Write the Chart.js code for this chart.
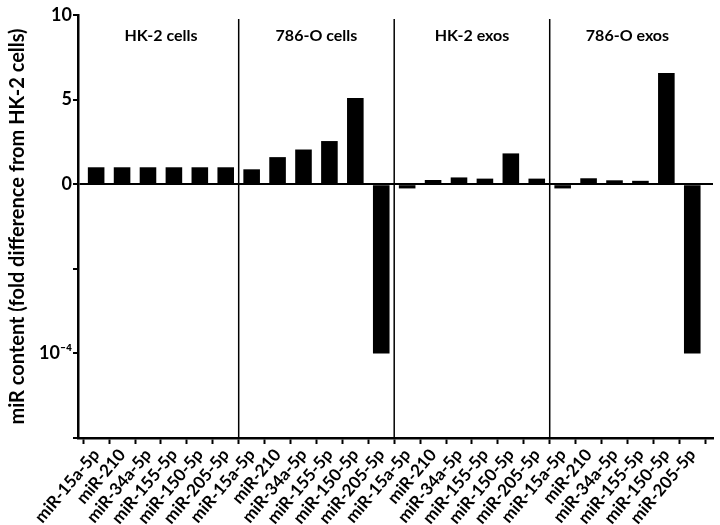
<!DOCTYPE html>
<html>
<head>
<meta charset="utf-8">
<script src="https://cdn.jsdelivr.net/npm/chart.js@4"></script>
<style>
  body { margin: 0; background: #fff; }
</style>
</head>
<body>
<canvas id="myChart" width="720" height="525"></canvas>
<script>
// chart values
var mirs = ['miR-15a-5p', 'miR-210', 'miR-34a-5p', 'miR-155-5p', 'miR-150-5p', 'miR-205-5p'];
var groups = ['HK-2 cells', '786-O cells', 'HK-2 exos', '786-O exos'];
var hk2Cells = [1, 1, 1, 1, 1, 1];
var cells786 = [0.88, 1.6, 2.05, 2.55, 5.1, -10];
var hk2Exos = [-0.25, 0.25, 0.4, 0.33, 1.82, 0.33];
var exos786 = [-0.25, 0.35, 0.23, 0.2, 6.57, -10];
// y ticks on the broken axis: -10 stands for 10^-4
var yTicks = [10, 5, 0, -5, -10, -15];
var yTickLabels = ['10', '5', '0', '', '10\u207B\u2074', ''];

var allValues = hk2Cells.concat(cells786, hk2Exos, exos786);
var allLabels = [];
groups.forEach(function(){ allLabels = allLabels.concat(mirs); });
var points = allValues.map(function(v, i){ return {x: i, y: v}; });

// separators and group titles
var groupPlugin = {
    id: 'groupPlugin',
    afterDatasetsDraw: function(chart){
        var ctx = chart.ctx;
        var xs = chart.scales.x;
        var area = chart.chartArea;
        ctx.save();
        ctx.strokeStyle = '#000';
        ctx.lineWidth = 1.5;
        for (var g = 1; g < groups.length; g++) {
            var px = xs.getPixelForValue(g * mirs.length - 0.5);
            ctx.beginPath();
            ctx.moveTo(px, area.top + 4);
            ctx.lineTo(px, area.bottom);
            ctx.stroke();
        }
        ctx.fillStyle = '#000';
        ctx.font = 'bold 16px Lato';
        ctx.textAlign = 'center';
        ctx.textBaseline = 'middle';
        groups.forEach(function(name, g){
            var cx = xs.getPixelForValue(g * mirs.length + (mirs.length - 1) / 2);
            ctx.fillText(name, cx, 36);
        });
        ctx.restore();
    }
};

new Chart(document.getElementById('myChart'), {
    type: 'bar',
    data: {
        datasets: [{
            data: points,
            backgroundColor: '#000',
            borderWidth: 0,
            barPercentage: 0.8,
            categoryPercentage: 0.8
        }]
    },
    options: {
        responsive: false,
        animation: false,
        layout: { padding: { top: 15, right: 7 } },
        plugins: { legend: { display: false }, tooltip: { enabled: false } },
        scales: {
            x: {
                type: 'linear',
                min: -0.7,
                max: 23.8,
                offset: false,
                afterBuildTicks: function(scale){
                    scale.ticks = allLabels.map(function(l, i){ return {value: i}; });
                },
                afterFit: function(scale){ scale.height = 87; },
                border: { display: true, color: '#000', width: 2.5 },
                grid: { drawOnChartArea: false, drawTicks: true, tickLength: 6, tickColor: '#000', tickWidth: 2 },
                ticks: {
                    autoSkip: false,
                    minRotation: 50,
                    maxRotation: 50,
                    padding: 1,
                    color: '#000',
                    font: { family: 'Lato', size: 17, weight: 'bold' },
                    callback: function(v){ return allLabels[v]; }
                }
            },
            y: {
                min: -15,
                max: 10,
                afterBuildTicks: function(scale){
                    scale.ticks = yTicks.map(function(v){ return {value: v}; });
                },
                afterFit: function(scale){ scale.width = 78; },
                border: { display: true, color: '#000', width: 2.5 },
                grid: {
                    drawTicks: true,
                    tickLength: 5,
                    tickColor: '#000',
                    tickWidth: 2,
                    color: function(c){ return c.tick && c.tick.value === 0 ? '#000' : 'rgba(0,0,0,0)'; },
                    lineWidth: function(c){ return c.tick && c.tick.value === 0 ? 2 : 0; }
                },
                ticks: {
                    padding: 1,
                    color: '#000',
                    font: { family: 'Lato', size: 18, weight: 'bold' },
                    callback: function(v){ return yTickLabels[yTicks.indexOf(v)]; }
                },
                title: {
                    display: true,
                    text: 'miR content (fold difference from HK-2 cells)',
                    color: '#000',
                    font: { family: 'Lato', size: 20, weight: 'bold' },
                    padding: { top: 6, bottom: 0 }
                }
            }
        }
    },
    plugins: [groupPlugin]
});
</script>
</body>
</html>
